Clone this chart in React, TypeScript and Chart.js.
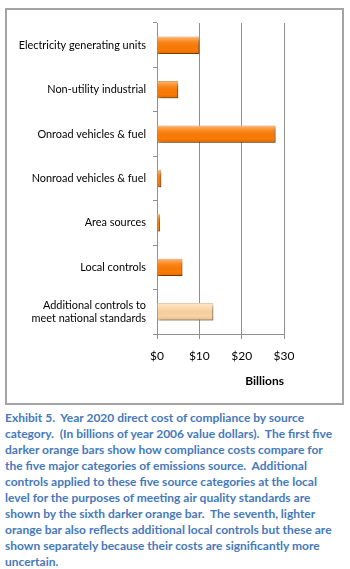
import React, { useEffect, useRef } from "react";
import { Chart, registerables } from "chart.js";

Chart.register(...registerables);

const categories: (string | string[])[] = [
  "Electricity generating units",
  "Non-utility industrial",
  "Onroad vehicles & fuel",
  "Nonroad vehicles & fuel",
  "Area sources",
  "Local controls",
  ["Additional controls to", "meet national standards"],
];
const costs = [10, 5, 28, 1, 0.7, 6, 13.3];
const barKinds = ["dark", "dark", "dark", "dark", "dark", "dark", "light"];
const xTicks = [0, 10, 20, 30];
const xTitle = "Billions";
const captionLines = [
  "Exhibit 5.  Year 2020 direct cost of compliance by source",
  "category.  (In billions of year 2006 value dollars).  The first five",
  "darker orange bars show how compliance costs compare for",
  "the five major categories of emissions source.  Additional",
  "controls applied to these five source categories at the local",
  "level for the purposes of meeting air quality standards are",
  "shown by the sixth darker orange bar.  The seventh, lighter",
  "orange bar also reflects additional local controls but these are",
  "shown separately because their costs are significantly more",
  "uncertain.",
];

const FONT = "Lato, 'Open Sans', sans-serif";

const shadowPlugin = {
  id: "barShadow",
  beforeDatasetsDraw(chart: any) {
    const ctx = chart.ctx;
    ctx.save();
    ctx.shadowColor = "rgba(0,0,0,0.35)";
    ctx.shadowOffsetX = 2;
    ctx.shadowOffsetY = 2;
    ctx.shadowBlur = 2;
  },
  afterDatasetsDraw(chart: any) {
    const ctx = chart.ctx;
    ctx.restore();
    const meta = chart.getDatasetMeta(0);
    meta.data.forEach((el: any) => {
      const top = el.y - el.height / 2;
      const left = Math.min(el.base, el.x);
      const w = Math.abs(el.x - el.base);
      const h = el.height;
      ctx.save();
      const g = ctx.createLinearGradient(0, top, 0, top + h);
      g.addColorStop(0, "rgba(255,255,255,0.45)");
      g.addColorStop(0.3, "rgba(255,255,255,0.1)");
      g.addColorStop(0.75, "rgba(0,0,0,0)");
      g.addColorStop(1, "rgba(0,0,0,0.12)");
      ctx.fillStyle = g;
      ctx.fillRect(left, top, w, h);
      ctx.restore();
    });
  },
};

export default function App() {
  const ref = useRef<HTMLCanvasElement>(null);
  useEffect(() => {
    if (!ref.current) return;
    const chart = new Chart(ref.current, {
      type: "bar",
      data: {
        labels: categories as any,
        datasets: [
          {
            data: costs,
            backgroundColor: barKinds.map((k) => (k === "dark" ? "#fb7b04" : "#fcd3a2")),
            borderColor: barKinds.map((k) => (k === "dark" ? "#c95e00" : "#d8a878")),
            borderWidth: 1,
            categoryPercentage: 1,
            barPercentage: 0.39,
          },
        ],
      },
      options: {
        indexAxis: "y",
        animation: false,
        responsive: false,
        maintainAspectRatio: false,
        layout: { padding: { top: 23, right: 66, left: 0, bottom: 0 } },
        plugins: { legend: { display: false }, tooltip: { enabled: false } },
        scales: {
          x: {
            type: "linear",
            position: "bottom",
            min: 0,
            max: 30,
            afterBuildTicks: (s: any) => {
              s.ticks = xTicks.map((v) => ({ value: v }));
            },
            afterFit: (s: any) => {
              s.height = 71;
            },
            ticks: {
              color: "#000",
              padding: 10,
              font: { family: FONT, size: 12 },
              callback: (v: any) => "$" + v,
            },
            grid: { color: "#8f8f8f", tickLength: 5, lineWidth: 1 },
            border: { color: "#8f8f8f" },
            title: {
              display: true,
              text: xTitle,
              align: "end",
              color: "#000",
              font: { family: FONT, size: 12, weight: "bold" },
              padding: { top: 0, bottom: 17 },
            },
          },
          y: {
            type: "category",
            afterFit: (s: any) => {
              s.width = 157;
            },
            ticks: {
              color: "#000",
              padding: 7,
              font: { family: FONT, size: 10.9 },
            },
            grid: {
              drawOnChartArea: false,
              drawTicks: true,
              tickLength: 4,
              offset: true,
              color: "#8f8f8f",
            },
            border: { color: "#8f8f8f" },
          },
        },
      } as any,
      plugins: [shadowPlugin],
    });
    return () => chart.destroy();
  }, []);

  return (
    <div
      style={{
        position: "absolute",
        left: 0,
        top: 0,
        width: 350,
        height: 569,
        overflow: "hidden",
        background: "#fff",
      }}
    >
      <div
        style={{
          position: "absolute",
          left: 5,
          top: 8,
          width: 339,
          height: 397,
          boxSizing: "border-box",
          border: "2px solid #a4a4a4",
          background: "#fff",
        }}
      />
      <canvas
        ref={ref}
        width={350}
        height={405}
        style={{ position: "absolute", left: 0, top: 0, width: 350, height: 405 }}
      />
      <div
        style={{
          position: "absolute",
          left: 5,
          top: 410,
          fontFamily: FONT,
          fontWeight: "bold",
          fontSize: 12,
          lineHeight: "16px",
          color: "#4679bb",
          whiteSpace: "nowrap",
        }}
      >
        {captionLines.map((l, i) => (
          <div key={i} style={{ whiteSpace: "pre" }}>
            {l}
          </div>
        ))}
      </div>
    </div>
  );
}
